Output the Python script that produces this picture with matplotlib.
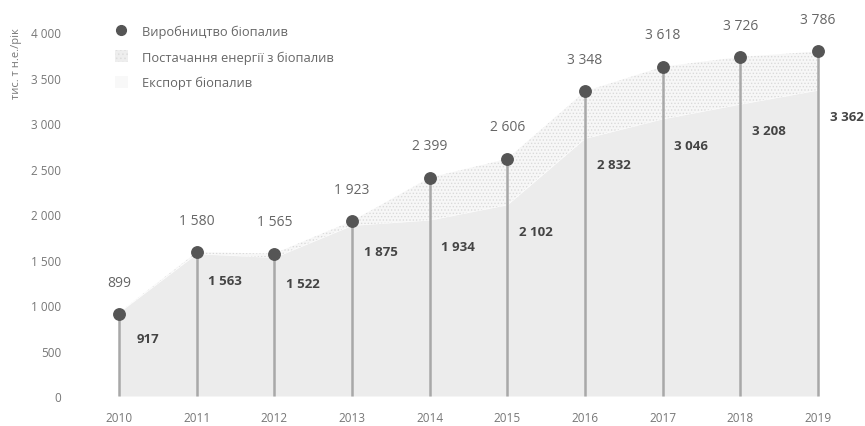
import matplotlib.pyplot as plt
from matplotlib.lines import Line2D
from matplotlib.patches import Patch
from matplotlib.ticker import FuncFormatter

plt.rcParams['font.family'] = ['Open Sans', 'DejaVu Sans']
plt.rcParams['hatch.color'] = '#d6d6d6'
plt.rcParams['hatch.linewidth'] = 0.6

years = [2010, 2011, 2012, 2013, 2014, 2015, 2016, 2017, 2018, 2019]
production = [899, 1580, 1565, 1923, 2399, 2606, 3348, 3618, 3726, 3786]
supply = [917, 1563, 1522, 1875, 1934, 2102, 2832, 3046, 3208, 3362]

labels = ['Виробництво біопалив', 'Постачання енергії з біопалив', 'Експорт біопалив']


def thousands(v, pos):
    return '{:,}'.format(int(v)).replace(',', ' ')


fig = plt.figure(figsize=(8.65, 4.27), dpi=100)
ax = fig.add_axes([75 / 865, 27 / 427, 790 / 865, 390 / 427])

# export band: from supply up to production
top = [max(p, s) for p, s in zip(production, supply)]
ax.fill_between(years, supply, top, facecolor='#f7f7f7', edgecolor='#dadada',
                hatch='.....', linewidth=0, zorder=1)
ax.fill_between(years, 0, supply, color='#ececec', linewidth=0, zorder=2)

# stems and dots for production
ax.vlines(years, 0, production, color='#a8a8a8', linewidth=1.8, zorder=3)
ax.scatter(years, production, s=68, color='#555555', zorder=4)

for x, p, s in zip(years, production, supply):
    ax.annotate(thousands(p, None), (x, p), xytext=(0, 23), textcoords='offset points',
                ha='center', va='center', fontsize=10, color='#666666')
    ax.annotate(thousands(s, None), (x + 0.37, s), xytext=(0, -19), textcoords='offset points',
                ha='center', va='center', fontsize=9.5, color='#444444', fontweight='bold')

ax.set_xlim(2009.434, 2019.605)
ax.set_ylim(-33, 4253)
ax.set_xticks(years)
ax.set_yticks(range(0, 4001, 500))
ax.yaxis.set_major_formatter(FuncFormatter(thousands))
ax.tick_params(length=0, labelsize=8.5, colors='#777777')
ax.tick_params(axis='y', pad=10)
ax.tick_params(axis='x', pad=9)
for sp in ax.spines.values():
    sp.set_visible(False)

fig.text(16 / 865, 1 - 64 / 427, 'тис. т н.е./рік', rotation=90, ha='center', va='center',
         fontsize=8, color='#777777')

handles = [
    Line2D([], [], marker='o', linestyle='none', markersize=7, color='#555555'),
    Patch(facecolor='#eeeeee', edgecolor='#dddddd', hatch='....', linewidth=0),
    Patch(facecolor='#f8f8f8', edgecolor='none'),
]
leg = ax.legend(handles, labels, loc='upper left', bbox_to_anchor=(28 / 790, 0.99),
                frameon=False, fontsize=9.3, labelcolor='#666666', handlelength=1.0,
                handleheight=1.0, labelspacing=0.95, handletextpad=1.1)

fig.savefig('out.png', dpi=100)
